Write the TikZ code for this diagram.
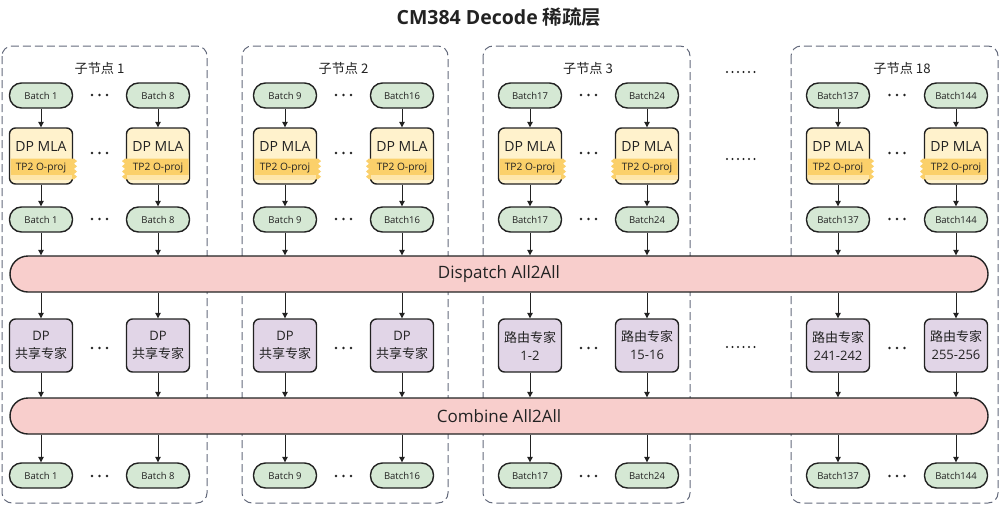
\documentclass[tikz,border=0pt]{standalone}
\usepackage{fontspec}
\setmainfont{Open Sans}
\newfontfamily\cjk{Noto Sans CJK SC}[BoldFont={Noto Sans CJK SC Bold}]
\usetikzlibrary{arrows.meta}
\definecolor{batchfill}{HTML}{D5E8D4}
\definecolor{mlafill}{HTML}{FFF2CC}
\definecolor{bandc}{HTML}{FBD06A}
\definecolor{expfill}{HTML}{E1D5E7}
\definecolor{barfill}{HTML}{F8CECC}
\definecolor{edgec}{HTML}{222222}
\definecolor{clusterc}{HTML}{646A7C}
\definecolor{textc}{HTML}{222222}
\tikzset{
  cluster/.style={draw=clusterc, line width=1pt, dash pattern=on 8pt off 4pt, rounded corners=10pt, fill=white},
  batchbox/.style={draw=edgec, line width=1.4pt, fill=batchfill, rounded corners=12pt, minimum width=63pt, minimum height=25pt, inner sep=0pt, font=\fontsize{9.5}{11}\selectfont, text=textc},
  mlabox/.style={draw=edgec, line width=1.4pt, fill=mlafill, rounded corners=6pt, minimum width=63pt, minimum height=56pt, inner sep=0pt},
  expbox/.style={draw=edgec, line width=1.4pt, fill=expfill, rounded corners=6pt, minimum width=63pt, minimum height=53pt, inner sep=0pt, align=center, font=\fontsize{13}{18}\selectfont, text=textc},
  barbox/.style={draw=edgec, line width=1.4pt, fill=barfill, rounded corners=18pt, minimum width=978pt, minimum height=36pt, inner sep=0pt, font=\fontsize{17}{20}\selectfont, text=textc},
  lbl/.style={inner sep=0pt, text=textc},
  arr/.style={draw=edgec, line width=1pt, -{Triangle[length=5.5pt,width=5.5pt]}},
}
\begin{document}
\begin{tikzpicture}[x=1pt,y=-1pt]
\useasboundingbox (0,0) rectangle (1000,506);
% title
\node[lbl, font=\fontsize{19.5}{22}\selectfont\bfseries] (title) at (499,17) {CM384 Decode {\cjk\bfseries 稀疏层}};
% clusters
\draw[cluster] (2,46) rectangle (207,503);
\draw[cluster] (242,46) rectangle (448,503);
\draw[cluster] (483,46) rectangle (690,503);
\draw[cluster] (791,46) rectangle (998,503);
\node[lbl, font=\cjk\fontsize{13.2}{15}\selectfont] (c1) at (99.5,68) {子节点 1};
\node[lbl, font=\cjk\fontsize{13.2}{15}\selectfont] (c2) at (343.5,68) {子节点 2};
\node[lbl, font=\cjk\fontsize{13.2}{15}\selectfont] (c3) at (588,68) {子节点 3};
\node[lbl, font=\cjk\fontsize{13.2}{15}\selectfont] (c4) at (902,68) {子节点 18};
% bars
\node[barbox] (dispatch) at (499,274) {Dispatch All2All};
\node[barbox] (combine) at (499,416) {Combine All2All};
% columns
\foreach \cx/\ta/\la/\lb/\s [count=\k] in {
  41/Batch 1/{DP}/{\cjk 共享专家}/1,
  158/Batch 8/{DP}/{\cjk 共享专家}/-1,
  285/Batch 9/{DP}/{\cjk 共享专家}/1,
  402/Batch16/{DP}/{\cjk 共享专家}/-1,
  530/Batch17/{\cjk 路由专家}/{1-2}/1,
  647/Batch24/{\cjk 路由专家}/{15-16}/-1,
  838/Batch137/{\cjk 路由专家}/{241-242}/1,
  956/Batch144/{\cjk 路由专家}/{255-256}/-1}{
  \node[batchbox] (bt\k) at (\cx,95.5) {\ta};
  \node[mlabox] (ml\k) at (\cx,156) {};
  \fill[bandc] ({\cx-\s*30.5},158.5) -- ({\cx+\s*33},158.5)
     \foreach \j in {1,...,8}{ -- ({\cx+\s*(33+3*mod(\j,2))},{158.5+2.6*\j}) }
     -- ({\cx-\s*30.5},179.3) -- cycle;
  \fill[mlafill!65!bandc] ({\cx-\s*30.5},175) rectangle ({\cx+\s*31},179.3);
  \node[lbl, font=\fontsize{14}{16}\selectfont] (mt\k) at (\cx,146.5) {DP MLA};
  \node[lbl, font=\fontsize{10.2}{12}\selectfont] (mp\k) at (\cx,168) {TP2 O-proj};
  \node[batchbox] (bm\k) at (\cx,219.5) {\ta};
  \node[expbox] (ex\k) at (\cx,345.5) {\la\\\lb};
  \node[batchbox] (bb\k) at (\cx,475.5) {\ta};
  \draw[arr] (bt\k) -- (ml\k);
  \draw[arr] (ml\k) -- (bm\k);
  \draw[arr] (bm\k) -- (bm\k |- dispatch.north);
  \draw[arr] (ex\k |- dispatch.south) -- (ex\k);
  \draw[arr] (ex\k) -- (ex\k |- combine.north);
  \draw[arr] (bb\k |- combine.south) -- (bb\k);
}
% dots between columns
\foreach \dx in {99.5,343.5,588.5,897}{
  \foreach \dy in {95,153,219,348,476}{
    \foreach \o in {-7.5,0,7.5}{
      \fill[textc] ({\dx+\o},\dy) circle (1.3pt);
    }
  }
}
% dots between cluster 3 and 18
\foreach \dy in {72,159,347}{
  \foreach \i in {0,...,5}{
    \fill[textc] ({727+5.5*\i},\dy) circle (1.1pt);
  }
}
\end{tikzpicture}
\end{document}
